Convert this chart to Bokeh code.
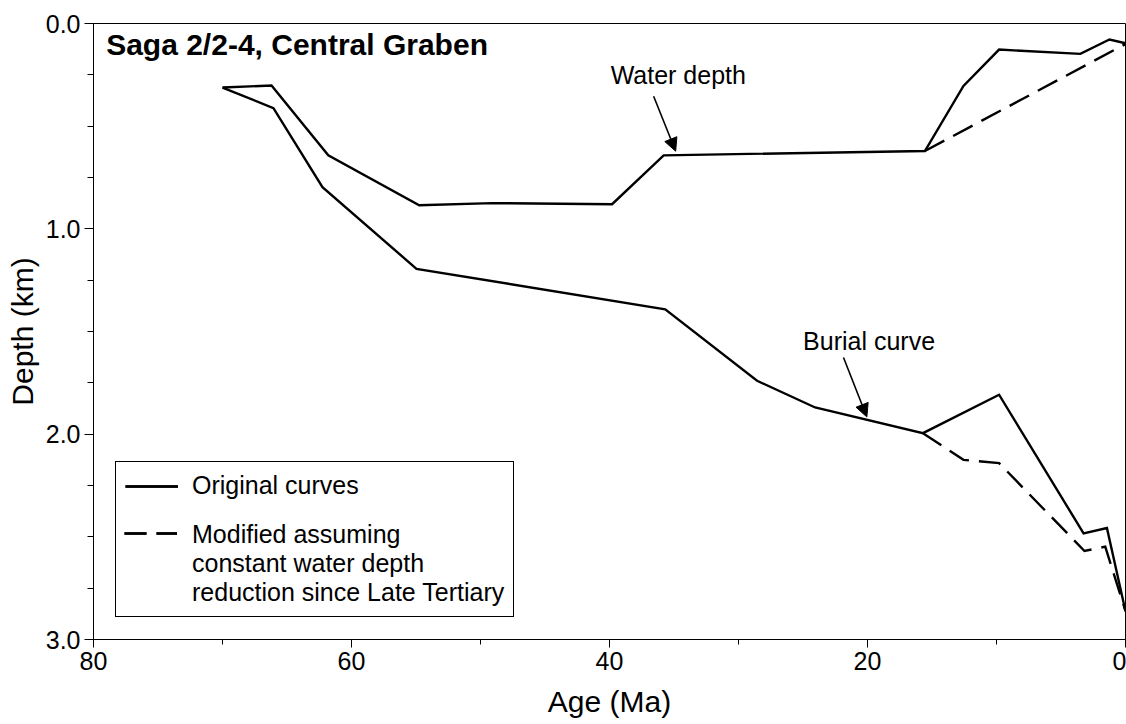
from bokeh.plotting import figure
from bokeh.models import (Range1d, FixedTicker, PrintfTickFormatter, Legend, LegendItem,
                          Label, Arrow, NormalHead)
from bokeh.embed import file_html
from bokeh.resources import INLINE

# ---- data ----
water_age = [70.0, 66.2, 61.8, 54.75, 49.1, 39.8, 35.8, 15.55, 12.56, 9.8, 3.5, 1.24, 0.0]
water_depth = [0.312, 0.302, 0.642, 0.885, 0.875, 0.88, 0.642, 0.621, 0.304, 0.127, 0.148, 0.078, 0.096]

water_mod_age = [15.55, 0.0]
water_mod_depth = [0.621, 0.10]

burial_age = [70.0, 66.05, 62.25, 54.96, 35.68, 28.56, 24.06, 15.7, 9.8, 3.25, 1.44, 0.0]
burial_depth = [0.312, 0.412, 0.797, 1.195, 1.392, 1.74, 1.87, 1.995, 1.808, 2.483, 2.457, 2.862]

burial_mod_age = [15.7, 12.56, 9.8, 3.18, 1.57, 0.0]
burial_mod_depth = [1.995, 2.125, 2.141, 2.569, 2.548, 2.862]

x_major = [0, 20, 40, 60, 80]
x_minor = [10, 30, 50, 70]
y_major = [0, 1, 2, 3]
y_minor = [0.25, 0.5, 0.75, 1.25, 1.5, 1.75, 2.25, 2.5, 2.75]

FONT = "Liberation Sans"
DASH = "22 10"
LW = 2.4

p = figure(width=1126, height=724, output_backend="svg", toolbar_location=None,
           x_range=Range1d(80, 0), y_range=Range1d(3.0, 0.0),
           min_border_left=93, min_border_top=23, min_border_right=1, min_border_bottom=85,
           background_fill_color="white", border_fill_color="white")

p.xgrid.visible = False
p.ygrid.visible = False
p.outline_line_color = "black"
p.outline_line_width = 1
p.outline_line_alpha = 1

for ax in (p.xaxis[0], p.yaxis[0]):
    ax.axis_line_color = "black"
    ax.major_tick_line_color = "black"
    ax.minor_tick_line_color = "black"
    ax.major_tick_in = 0
    ax.minor_tick_in = 0
    ax.major_label_text_font = FONT
    ax.major_label_text_font_size = "25px"
    ax.major_label_text_color = "black"
    ax.axis_label_text_font = FONT
    ax.axis_label_text_font_size = "30px"
    ax.axis_label_text_font_style = "normal"
    ax.axis_label_text_color = "black"
    ax.major_label_standoff = 4

p.xaxis.ticker = FixedTicker(ticks=x_major, minor_ticks=x_minor)
p.xaxis.major_tick_out = 8
p.xaxis.minor_tick_out = 5
p.xaxis.axis_label = "Age (Ma)"
p.xaxis.axis_label_standoff = 12

p.yaxis.ticker = FixedTicker(ticks=y_major, minor_ticks=y_minor)
p.yaxis.formatter = PrintfTickFormatter(format="%.1f")
p.yaxis.major_tick_out = 9
p.yaxis.minor_tick_out = 6
p.yaxis.axis_label = "Depth (km)"
p.yaxis.axis_label_standoff = 4

r_w = p.line(water_age, water_depth, line_color="black", line_width=LW, line_join="miter")
r_b = p.line(burial_age, burial_depth, line_color="black", line_width=LW, line_join="miter")
r_wm = p.line(water_mod_age, water_mod_depth, line_color="black", line_width=LW,
              line_dash=DASH, line_join="miter")
r_bm = p.line(burial_mod_age, burial_mod_depth, line_color="black", line_width=LW,
              line_dash=DASH, line_join="miter")
# placeholder renderer (draws nothing) that carries the multi-line legend text
r_blank = p.line(x=[], y=[], line_alpha=0)

PAD = 9
legend = Legend(items=[
    LegendItem(label="Original curves", renderers=[r_w, r_b]),
    LegendItem(label="Modified assuming\nconstant water depth\nreduction since Late Tertiary",
               renderers=[r_blank]),
], location=(22, 22))
legend.label_text_font = FONT
legend.label_text_font_size = "25px"
legend.label_text_color = "black"
legend.label_text_line_height = 1.1
legend.glyph_width = 53
legend.glyph_height = 28
legend.label_standoff = 14
legend.padding = PAD
legend.spacing = 20
legend.margin = 0
legend.border_line_color = "black"
legend.border_line_width = 1
legend.border_line_alpha = 1
legend.background_fill_alpha = 1
p.add_layout(legend)

# dashed sample aligned with the first line of the multi-line entry
legend_dash = Legend(items=[LegendItem(label=" ", renderers=[r_wm, r_bm])],
                     location=(22 + PAD, 92))
legend_dash.label_text_font = FONT
legend_dash.label_text_font_size = "25px"
legend_dash.glyph_width = 53
legend_dash.glyph_height = 28
legend_dash.label_standoff = 0
legend_dash.padding = 0
legend_dash.margin = 0
legend_dash.border_line_alpha = 0
legend_dash.background_fill_alpha = 0
p.add_layout(legend_dash)

p.add_layout(Label(x=79.02, y=0.10, text="Saga 2/2-4, Central Graben", text_font=FONT,
                   text_font_size="30px", text_font_style="bold", text_color="black",
                   text_align="left", text_baseline="middle"))

p.add_layout(Label(x=34.67, y=0.252, text="Water depth", text_font=FONT,
                   text_font_size="25px", text_color="black",
                   text_align="center", text_baseline="middle"))
p.add_layout(Label(x=19.88, y=1.545, text="Burial curve", text_font=FONT,
                   text_font_size="25px", text_color="black",
                   text_align="center", text_baseline="middle"))

p.add_layout(Arrow(end=NormalHead(size=13, fill_color="black", line_color="black"),
                   x_start=36.58, y_start=0.354, x_end=34.87, y_end=0.622,
                   line_color="black", line_width=1.6))
p.add_layout(Arrow(end=NormalHead(size=13, fill_color="black", line_color="black"),
                   x_start=21.86, y_start=1.627, x_end=20.05, y_end=1.916,
                   line_color="black", line_width=1.6))

open("out.html", "w").write(file_html(p, INLINE))
